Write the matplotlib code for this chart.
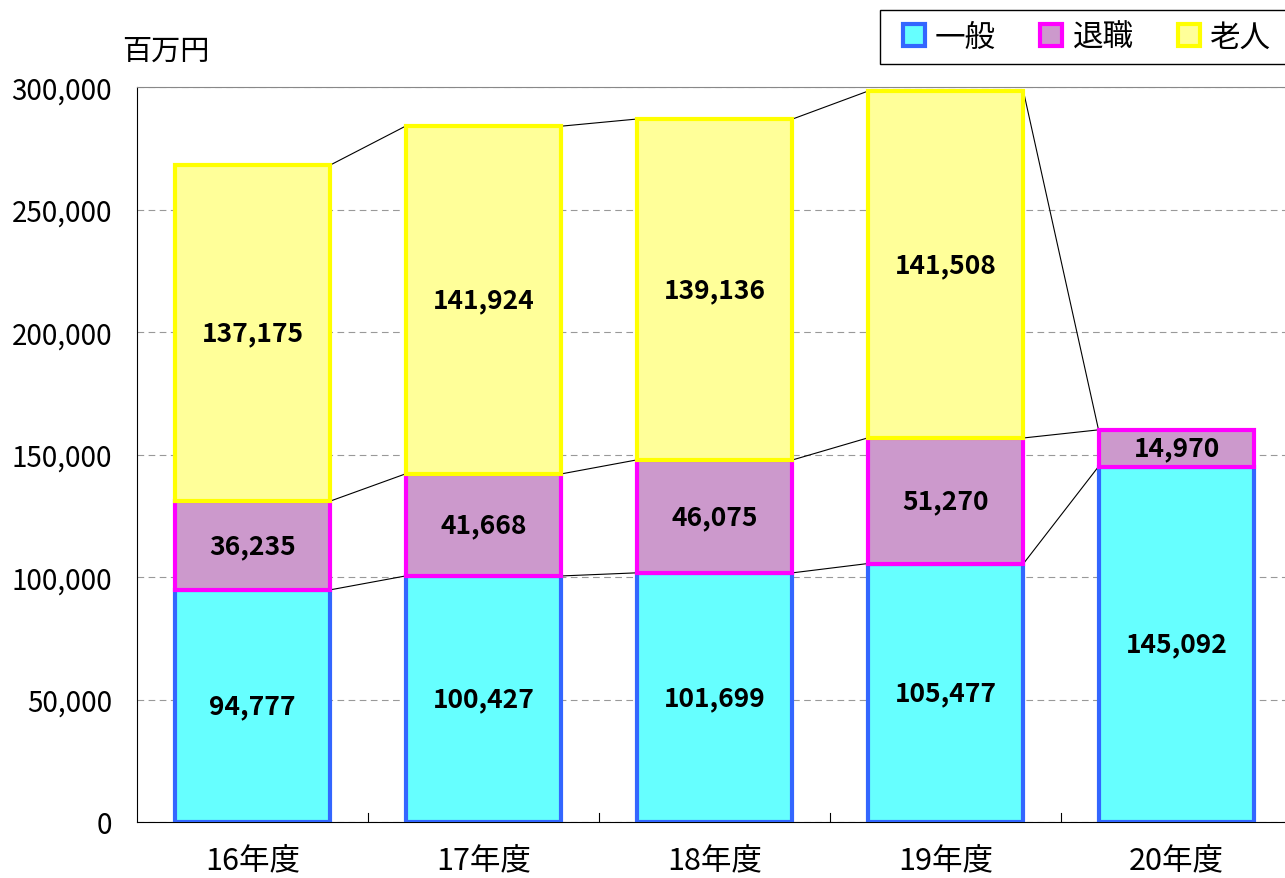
import matplotlib
matplotlib.use("Agg")
import matplotlib.pyplot as plt
import numpy as np
from matplotlib.patches import Patch, Rectangle

plt.rcParams['font.family'] = ['Noto Sans CJK JP', 'DejaVu Sans']

categories = ['16年度', '17年度', '18年度', '19年度', '20年度']
series_names = ['一般', '退職', '老人']
ippan = [94777, 100427, 101699, 105477, 145092]
taishoku = [36235, 41668, 46075, 51270, 14970]
roujin = [137175, 141924, 139136, 141508, 0]
y_ticks = [0, 50000, 100000, 150000, 200000, 250000, 300000]
y_unit = '百万円'

face_colors = ['#66FFFF', '#CC99CC', '#FFFF99']
edge_colors = ['#3366FF', '#FF00FF', '#FFFF00']

fig = plt.figure(figsize=(12.85, 8.79), dpi=100)
ax = fig.add_axes([137 / 1285, 1 - 823 / 879, 1155 / 1285, (823 - 88) / 879])

x = np.arange(len(categories))
w = 0.675
data = [ippan, taishoku, roujin]
bottom = np.zeros(len(categories))
tops = []
for vals, fc, ec in zip(data, face_colors, edge_colors):
    vals = np.array(vals, dtype=float)
    mask = vals > 0
    ax.bar(x[mask], vals[mask], w, bottom=bottom[mask], color=fc, edgecolor=ec,
           linewidth=3, zorder=3)
    for xi, v, b in zip(x, vals, bottom):
        if v > 0:
            ax.text(xi, b + v / 2, f'{int(v):,}', ha='center', va='center',
                    fontsize=19, fontweight='bold', zorder=5)
    bottom = bottom + vals
    tops.append(bottom.copy())

# series lines
for t in tops:
    for i in range(len(categories) - 1):
        ax.plot([x[i] + w / 2, x[i + 1] - w / 2], [t[i], t[i + 1]],
                color='black', linewidth=0.8, zorder=2)

ax.set_xlim(-0.5, len(categories) - 0.5)
ax.set_ylim(0, 300000)
ax.set_yticks(y_ticks)
ax.set_yticklabels([f'{v:,}' for v in y_ticks], fontsize=20)
ax.set_xticks(x)
ax.set_xticklabels(categories, fontsize=22)
ax.tick_params(axis='x', length=0, pad=16)
ax.tick_params(axis='y', length=0, pad=18)
for xb in np.arange(0.5, len(categories) - 0.5, 1):
    ax.plot([xb, xb], [0, 300000 * 0.012], color='black', linewidth=0.8, zorder=4)

ax.grid(axis='y', color='#999999', linestyle=(0, (6, 4)), linewidth=0.8, zorder=0)
ax.spines['right'].set_visible(False)
ax.spines['top'].set_color('#888888')
ax.spines['left'].set_color('black')
ax.spines['bottom'].set_color('black')

fig.text(122 / 1285, 1 - 52 / 879, y_unit, fontsize=21, ha='left', va='center')

# legend frame
fig.patches.append(Rectangle((880 / 1285, 1 - 65 / 879), 420 / 1285, 54 / 879,
                             transform=fig.transFigure, facecolor='white',
                             edgecolor='black', linewidth=1.0, zorder=1))
handles = [Patch(facecolor=fc, edgecolor=ec, linewidth=3) for fc, ec in zip(face_colors, edge_colors)]
leg = fig.legend(handles, series_names, loc='center left', bbox_to_anchor=(903 / 1285, 1 - 38 / 879),
                 ncol=3, fontsize=22, frameon=False,
                 handlelength=0.72, handleheight=0.72, columnspacing=1.45, handletextpad=0.33,
                 borderpad=0, borderaxespad=0)

fig.savefig('out.png', dpi=100)
